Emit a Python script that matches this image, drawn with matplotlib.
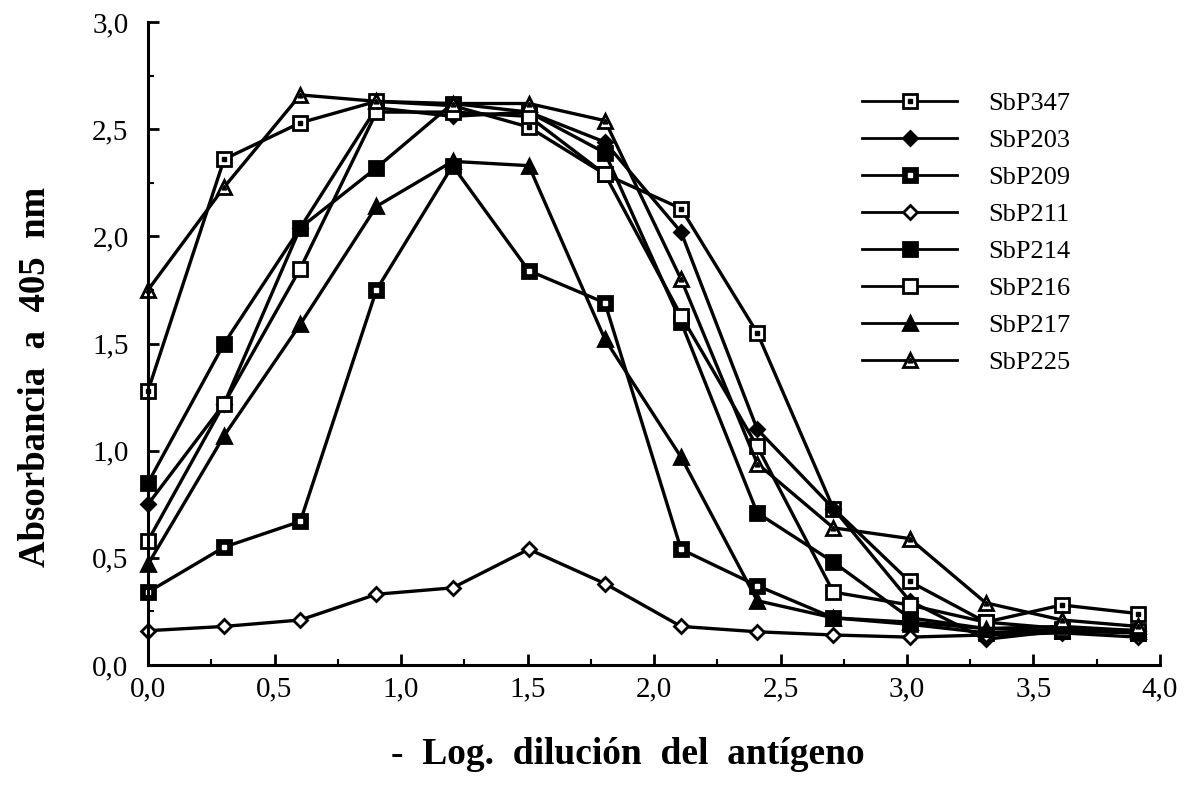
import matplotlib
matplotlib.use("Agg")
import matplotlib.pyplot as plt
from matplotlib.ticker import MultipleLocator, FuncFormatter
from matplotlib.legend_handler import HandlerTuple

x = [0.0, 0.301, 0.602, 0.903, 1.204, 1.505, 1.806, 2.107, 2.408, 2.709, 3.010, 3.311, 3.612, 3.913]

SbP347 = [1.28, 2.36, 2.53, 2.63, 2.61, 2.51, 2.29, 2.13, 1.55, 0.73, 0.39, 0.20, 0.28, 0.24]
SbP203 = [0.75, 1.22, 2.04, 2.60, 2.56, 2.58, 2.44, 2.02, 1.10, 0.73, 0.30, 0.12, 0.16, 0.16]
SbP209 = [0.34, 0.55, 0.67, 1.75, 2.33, 1.84, 1.69, 0.54, 0.37, 0.22, 0.19, 0.15, 0.16, 0.15]
SbP211 = [0.16, 0.18, 0.21, 0.33, 0.36, 0.54, 0.38, 0.18, 0.155, 0.14, 0.13, 0.14, 0.15, 0.13]
SbP214 = [0.85, 1.50, 2.04, 2.32, 2.62, 2.58, 2.39, 1.60, 0.71, 0.48, 0.22, 0.17, 0.16, 0.15]
SbP216 = [0.58, 1.22, 1.85, 2.58, 2.58, 2.56, 2.29, 1.63, 1.02, 0.34, 0.28, 0.20, 0.17, 0.16]
SbP217 = [0.47, 1.07, 1.59, 2.14, 2.35, 2.33, 1.52, 0.97, 0.30, 0.22, 0.20, 0.17, 0.18, 0.16]
SbP225 = [1.75, 2.23, 2.66, 2.63, 2.62, 2.62, 2.54, 1.80, 0.94, 0.64, 0.59, 0.29, 0.21, 0.18]

labels = ["SbP347", "SbP203", "SbP209", "SbP211", "SbP214", "SbP216", "SbP217", "SbP225"]
series = [SbP347, SbP203, SbP209, SbP211, SbP214, SbP216, SbP217, SbP225]

plt.rcParams['font.family'] = ['Liberation Serif', 'DejaVu Serif']

fig = plt.figure(figsize=(11.85, 7.88), dpi=100)
ax = fig.add_axes([0.1249, 0.1561, 0.9789 - 0.1249, 0.972 - 0.1561])

K = 'black'
W = 'white'
# style: (marker, face, size, inner marker, inner face, inner size)
styles = {
    "SbP347": ('s', W, 9.5, 's', K, 2.5),
    "SbP203": ('D', K, 7.5, None, None, 0),
    "SbP209": ('s', K, 9.5, 's', W, 2.5),
    "SbP211": ('D', W, 7, None, None, 0),
    "SbP214": ('s', K, 9.5, None, None, 0),
    "SbP216": ('s', W, 9.5, None, None, 0),
    "SbP217": ('^', K, 10, None, None, 0),
    "SbP225": ('^', W, 10, '^', K, 3.5),
}

handles = []
for lab, ys in zip(labels, series):
    m, fc, ms, im, ifc, ims = styles[lab]
    h, = ax.plot(x, ys, color=K, lw=2.4, marker=m, markerfacecolor=fc,
                 markeredgecolor=K, markeredgewidth=2.0, markersize=ms, clip_on=False)
    if im is not None:
        h2, = ax.plot(x, ys, ls='none', marker=im, markerfacecolor=ifc,
                      markeredgecolor=ifc, markersize=ims, clip_on=False)
        handles.append((h, h2))
    else:
        handles.append(h)

ax.set_xlim(0, 4.0)
ax.set_ylim(0, 3.0)
ax.spines['top'].set_visible(False)
ax.spines['right'].set_visible(False)
ax.spines['left'].set_linewidth(2.2)
ax.spines['bottom'].set_linewidth(2.2)

fmt = FuncFormatter(lambda v, p: f"{v:.1f}".replace('.', ','))
ax.xaxis.set_major_locator(MultipleLocator(0.5))
ax.xaxis.set_minor_locator(MultipleLocator(0.25))
ax.yaxis.set_major_locator(MultipleLocator(0.5))
ax.yaxis.set_minor_locator(MultipleLocator(0.25))
ax.xaxis.set_major_formatter(fmt)
ax.yaxis.set_major_formatter(fmt)
ax.tick_params(which='major', direction='in', length=8, width=2.0, labelsize=21)
ax.tick_params(which='minor', direction='in', length=4, width=1.5)
ax.tick_params(axis='x', which='major', pad=8)
ax.tick_params(axis='y', which='major', pad=14)

ax.set_xlabel("-  Log.  dilución  del  antígeno", fontsize=27, fontweight='bold')
ax.xaxis.set_label_coords(0.474, -0.112)
ax.set_ylabel("Absorbancia  a  405  nm", fontsize=26.5, fontweight='bold')
ax.yaxis.set_label_coords(-0.094, 0.448)

leg = ax.legend(handles, labels, loc='upper left', bbox_to_anchor=(862 / 1185, 1 - 92 / 788),
                bbox_transform=fig.transFigure, frameon=False, fontsize=19,
                handlelength=3.6, handletextpad=1.2, labelspacing=0.51, borderpad=0,
                borderaxespad=0, numpoints=1,
                handler_map={tuple: HandlerTuple(ndivide=1, pad=0)})
for line in leg.get_lines():
    if line.get_linestyle() != 'None':
        line.set_linewidth(2.0)

fig.savefig("out.png", dpi=100)
